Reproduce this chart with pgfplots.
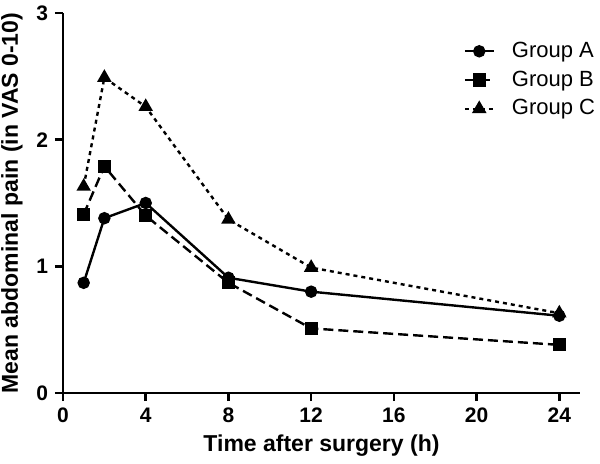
\documentclass[border=0pt]{standalone}
\usepackage{fontspec}
\setmainfont{Liberation Sans}
\usepackage{pgfplots}
\pgfplotsset{compat=1.18}
\begin{document}
\begin{tikzpicture}
\begin{axis}[
  at={(0,0)}, anchor=south west,
  scale only axis,
  width=258.5pt, height=190pt,
  xmin=0, xmax=25, ymin=0, ymax=3,
  axis x line=bottom, axis y line=left,
  axis line style={-, line width=1.3pt, black},
  xtick={0,4,8,12,16,20,24}, ytick={0,1,2,3},
  minor tick num=0,
  tick align=outside,
  major tick length=4pt,
  tick style={line width=1.3pt, black},
  /pgf/number format/assume math mode=true,
  tick label style={font=\fontsize{10.5}{12}\selectfont\bfseries},
  xlabel={Time after surgery (h)},
  ylabel={Mean abdominal pain (in VAS 0-10)},
  every axis x label/.style={at={(rel axis cs:0.5,0)}, yshift=-26.5pt, anchor=center, font=\fontsize{11.5}{13}\selectfont\bfseries},
  every axis y label/.style={at={(rel axis cs:0,0.5)}, xshift=-25.5pt, rotate=90, anchor=center, font=\fontsize{11.5}{13}\selectfont\bfseries},
  clip=false,
  legend style={at={(rel axis cs:0.774,0.935)}, anchor=north west, draw=none, fill=none, inner sep=0pt,
    nodes={font=\fontsize{11}{13.5}\selectfont}, row sep=1.2pt,
    /tikz/every odd column/.append style={column sep=6.5pt}},
  legend cell align=left,
  legend image code/.code={\draw[mark repeat=2,mark phase=2,#1] plot coordinates {(0pt,0pt) (7.25pt,0pt) (14.5pt,0pt)};},
  every axis plot/.append style={line width=1.2pt, black},
]
\addplot[solid, mark=*, mark size=2.5pt, mark options={solid}] coordinates {
  (1,0.87) (2,1.38) (4,1.50) (8,0.91) (12,0.80) (24,0.61)};
\addlegendentry{Group A}
\addplot[dash pattern=on 5pt off 2.5pt, mark=square*, mark size=2.7pt, mark options={solid}] coordinates {
  (1,1.41) (2,1.79) (4,1.40) (8,0.87) (12,0.51) (24,0.38)};
\addlegendentry{Group B}
\addplot[dash pattern=on 2pt off 2pt, mark=triangle*, mark size=3pt, mark options={solid}] coordinates {
  (1,1.63) (2,2.49) (4,2.26) (8,1.37) (12,0.99) (24,0.63)};
\addlegendentry{Group C}
\end{axis}
\pgfresetboundingbox
\path[use as bounding box] (-31.5pt,-35pt) rectangle (268.5pt,196.5pt);
\end{tikzpicture}
\end{document}
